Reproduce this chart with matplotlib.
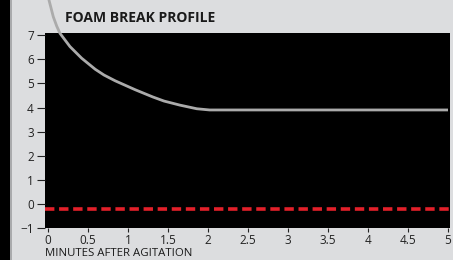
import matplotlib
matplotlib.use("Agg")
import matplotlib.pyplot as plt
from matplotlib.patches import Rectangle

# Data
minutes = [0.0, 0.0125, 0.066, 0.109, 0.15, 0.275, 0.42, 0.59, 0.70, 0.84, 1.09, 1.31, 1.45, 1.65, 1.86, 2.02, 5.0]
foam = [9.0, 8.46, 7.77, 7.38, 7.08, 6.53, 6.05, 5.59, 5.35, 5.11, 4.74, 4.44, 4.27, 4.10, 3.95, 3.9, 3.9]
threshold = -0.22
x_ticks = [0, 0.5, 1, 1.5, 2, 2.5, 3, 3.5, 4, 4.5, 5]
x_tick_labels = ["0", "0.5", "1", "1.5", "2", "2.5", "3", "3.5", "4", "4.5", "5"]
y_ticks = [-1, 0, 1, 2, 3, 4, 5, 6, 7]
title = "FOAM BREAK PROFILE"
xlabel = "MINUTES AFTER AGITATION"

plt.rcParams['font.family'] = ['Open Sans', 'DejaVu Sans']

W, H = 453, 260
fig = plt.figure(figsize=(W / 100, H / 100), dpi=100, facecolor="#dcdddf")

# left black strip and border line
fig.patches.append(Rectangle((0, 0), 10 / W, 1, transform=fig.transFigure, facecolor="black", edgecolor="none"))
fig.patches.append(Rectangle((10 / W, 0), 2 / W, 1, transform=fig.transFigure, facecolor="#a9aaac", edgecolor="none"))

ax = fig.add_axes([45 / W, 1 - 228 / H, 405 / W, 195 / H])
ax.set_facecolor("black")
for s in ax.spines.values():
    s.set_visible(False)

ax.set_xlim(-0.0375, 5.025)
ax.set_ylim(-1, 7.095)

ax.axhline(threshold, color="#e3202a", lw=2.6, dashes=(2.6, 1.3))
ax.plot(minutes, foam, color="#ababab", lw=2.0, clip_on=False, solid_capstyle="butt",
        solid_joinstyle="round")

ax.set_xticks(x_ticks)
ax.set_xticklabels(x_tick_labels)
ax.set_yticks(y_ticks)
ax.tick_params(axis="y", length=6, width=0.8, color="#222222", pad=2, labelsize=8.5, labelcolor="#222222")
ax.tick_params(axis="x", length=3, width=0.8, color="#222222", pad=1.5, labelsize=8.5, labelcolor="#222222")

fig.text(65 / W, 1 - 18 / H, title, fontsize=10, fontweight="bold", color="#1a1a1a", va="center", ha="left")
fig.text(45 / W, 1 - 253 / H, xlabel, fontsize=8.2, color="#1a1a1a", va="center", ha="left")

fig.savefig("out.png", dpi=100, facecolor=fig.get_facecolor())
